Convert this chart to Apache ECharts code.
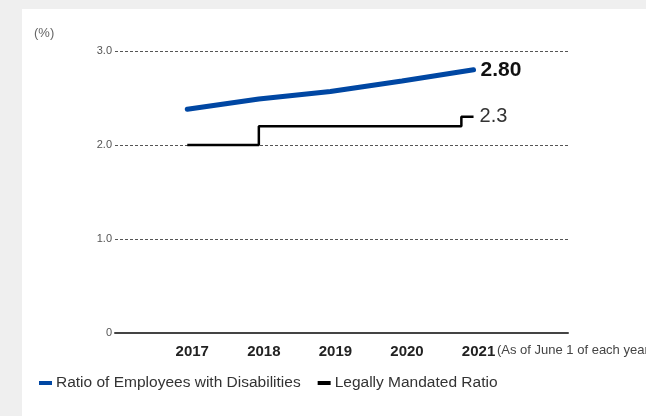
<!DOCTYPE html>
<html>
<head>
<meta charset="utf-8">
<script src="https://cdn.jsdelivr.net/npm/echarts@6/dist/echarts.min.js"></script>
<style>
  html, body { margin: 0; padding: 0; background: #efefef; width: 646px; height: 416px; overflow: hidden; }
  #panel { position: absolute; left: 22px; top: 9px; right: 0; bottom: 0; background: #ffffff; }
  #chart { position: absolute; left: 0; top: 0; width: 646px; height: 416px; }
</style>
</head>
<body>
<div id="panel"></div>
<div id="chart"></div>
<script>
// ---- data ----
var years = [2017, 2018, 2019, 2020, 2021];
var employeeRatio = [2.38, 2.49, 2.57, 2.68, 2.80];
// legally mandated ratio: raised to 2.3 in March 2021 (before the June 1 reference date)
var mandatedYears = [2017, 2018, 2019, 2020, 2020.83, 2021];
var mandatedRatio = [2.0, 2.2, 2.2, 2.2, 2.3, 2.3];
var yTicks = [0, 1, 2, 3];
var seriesNames = ['Ratio of Employees with Disabilities', 'Legally Mandated Ratio'];
var unitLabel = '(%)';
var dateNote = '(As of June 1 of each year)';

var FONT = '"Liberation Sans", Arial, sans-serif';

var blueData = years.map(function (y, i) { return [y, employeeRatio[i]]; });
var blackData = mandatedYears.map(function (y, i) { return [y, mandatedRatio[i]]; });

var chart = echarts.init(document.getElementById('chart'), null, { renderer: 'canvas' });
chart.setOption({
  backgroundColor: 'transparent',
  animation: false,
  textStyle: { fontFamily: FONT },
  grid: { left: 115, right: 78, top: 51, bottom: 83, containLabel: false },
  legend: {
    left: 39, top: 375, padding: 0,
    itemWidth: 13, itemHeight: 4, itemGap: 17,
    icon: 'rect',
    textStyle: { fontSize: 15.5, color: '#333', fontFamily: FONT, padding: [0, 0, 0, -1] },
    data: [
      { name: seriesNames[0], itemStyle: { color: '#0047a3' } },
      { name: seriesNames[1], itemStyle: { color: '#000000' } }
    ]
  },
  xAxis: {
    type: 'value',
    min: 2015.99, max: 2022.32,
    splitLine: { show: false },
    axisTick: { show: false },
    axisLine: { show: true, lineStyle: { color: '#444', width: 2 } },
    axisLabel: {
      customValues: years,
      margin: 11,
      padding: [0, 0, 0, 10],
      fontSize: 15, fontWeight: 'bold', color: '#222', fontFamily: FONT,
      formatter: function (v) { return String(v); }
    }
  },
  yAxis: {
    type: 'value',
    min: 0, max: 3, interval: 1,
    axisLine: { show: false },
    axisTick: { show: false },
    splitLine: { show: true, lineStyle: { color: '#555', type: [3, 2], width: 1 } },
    axisLabel: {
      margin: 3, fontSize: 11, color: '#555', fontFamily: FONT,
      formatter: function (v) { return v === 0 ? '0' : v.toFixed(1); }
    }
  },
  graphic: [
    { type: 'text', left: 34, top: 27, style: { text: unitLabel, fontSize: 13, fill: '#666', fontFamily: FONT } },
    { type: 'text', left: 497, top: 344, style: { text: dateNote, fontSize: 13, fill: '#444', fontFamily: FONT } }
  ],
  series: [
    {
      name: seriesNames[1],
      type: 'line',
      step: 'end',
      data: blackData,
      symbol: 'none',
      lineStyle: { color: '#000', width: 2.5 },
      itemStyle: { color: '#000' },
      endLabel: {
        show: true, distance: 6,
        formatter: function (p) { return p.value[1].toFixed(1); },
        fontSize: 20, color: '#333', fontFamily: FONT
      },
      z: 2
    },
    {
      name: seriesNames[0],
      type: 'line',
      data: blueData,
      symbol: 'none',
      lineStyle: { color: '#0047a3', width: 5, cap: 'round' },
      itemStyle: { color: '#0047a3' },
      endLabel: {
        show: true, distance: 7,
        formatter: function (p) { return p.value[1].toFixed(2); },
        fontSize: 21, fontWeight: 'bold', color: '#111', fontFamily: FONT
      },
      z: 3
    }
  ]
});
</script>
</body>
</html>
